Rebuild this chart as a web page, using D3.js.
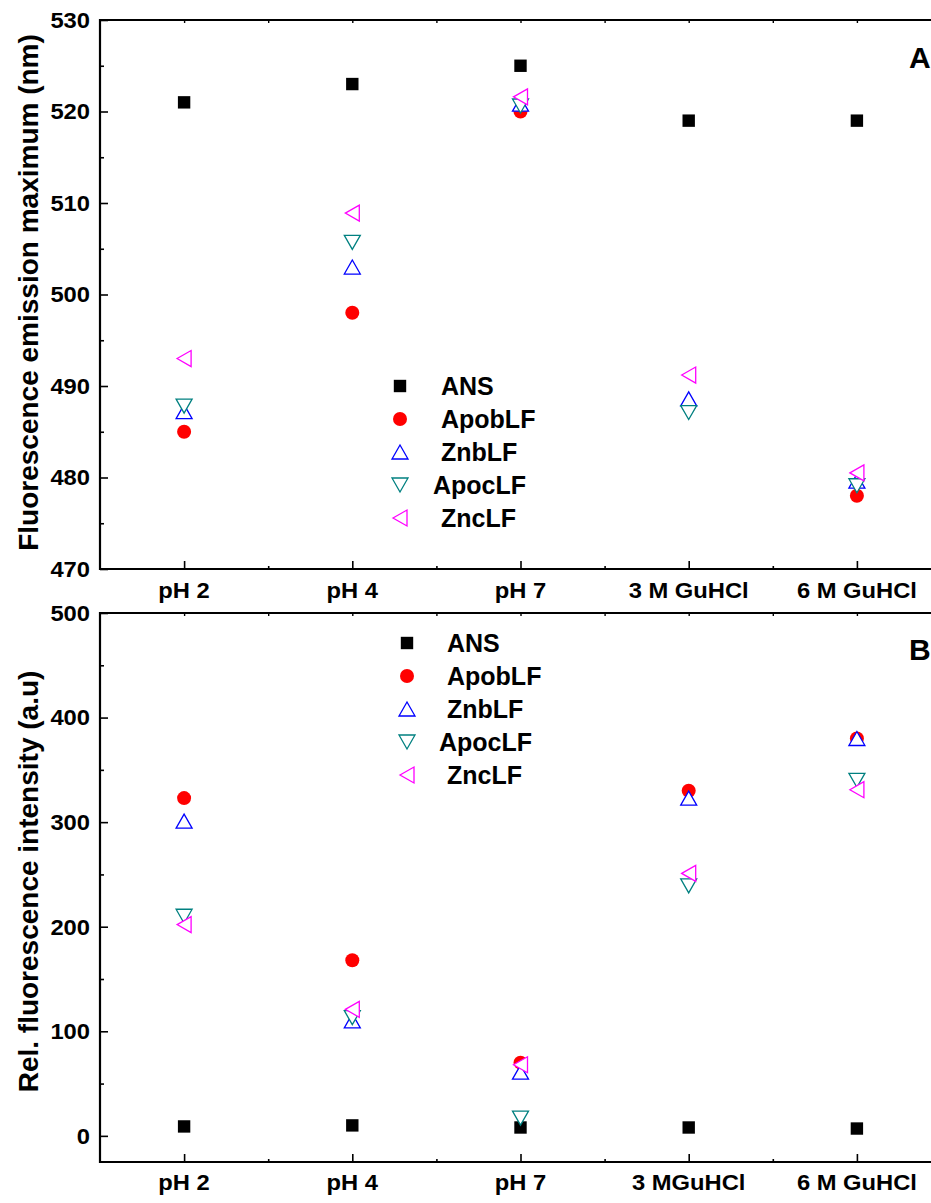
<!DOCTYPE html>
<html>
<head>
<meta charset="utf-8">
<script src="https://cdn.jsdelivr.net/npm/d3@7"></script>
<style>
  html, body { margin: 0; padding: 0; background: #fff; }
  svg { display: block; font-family: "Liberation Sans", Arial, Helvetica, sans-serif; font-weight: bold; }
</style>
</head>
<body>
<svg id="chart" width="931" height="1203"></svg>
<script>
// ---- data ----
const seriesNames = ["ANS", "ApobLF", "ZnbLF", "ApocLF", "ZncLF"];
const seriesColors = ["#000000", "#ff0000", "#0000ff", "#008080", "#ff00ff"];
const seriesShapes = ["square", "circle", "up", "down", "left"];

const categoriesA = ["pH 2", "pH 4", "pH 7", "3 M GuHCl", "6 M GuHCl"];
const categoriesB = ["pH 2", "pH 4", "pH 7", "3 MGuHCl", "6 M GuHCl"];

// Panel A: fluorescence emission maximum (nm)
const emisANS    = [521, 523, 525, 519, 519];
const emisApobLF = [485, 498, 520, 487.8, 478];
const emisZnbLF  = [487.2, 503, 520.8, 488.6, 479.6];
const emisApocLF = [487.8, 505.7, 520.6, 487.1, 479.1];
const emisZncLF  = [493, 508.9, 521.6, 491.2, 480.5];

// Panel B: relative fluorescence intensity (a.u)
const intANS    = [9, 10, 8, 8, 7];
const intApobLF = [323, 168, 70, 330, 380];
const intZnbLF  = [301, 110, 61, 323, 380];
const intApocLF = [210, 113, 17, 239, 340];
const intZncLF  = [202, 121, 68, 251, 331];

const ticksA = [470, 480, 490, 500, 510, 520, 530];
const ticksB = [0, 100, 200, 300, 400, 500];

// ---- drawing ----
const svg = d3.select("#chart");

function markerPath(shape) {
  switch (shape) {
    case "square": return "M-6.2,-6.2H6.2V6.2H-6.2Z";
    case "circle": return d3.symbol(d3.symbolCircle, Math.PI * 7 * 7)();
    case "up":     return "M0,-7L8,7L-8,7Z";
    case "down":   return "M0,7L8,-7L-8,-7Z";
    case "left":   return "M-7,0L7,-8L7,8Z";
  }
}

function drawMarker(g, shape, color, x, y) {
  const filled = shape === "square" || shape === "circle";
  g.append("path")
    .attr("d", markerPath(shape))
    .attr("transform", `translate(${x},${y})`)
    .attr("fill", filled ? color : "#fff")
    .attr("stroke", filled ? "none" : color)
    .attr("stroke-width", 1.3)
    .attr("stroke-linejoin", "miter");
}

function drawPanel(opt) {
  const g = svg.append("g");
  const x = d3.scaleLinear().domain([0.5, 5.5]).range([100, 941]);
  const y = d3.scaleLinear().domain(opt.domain).range([opt.bottom, opt.top]);
  const catIdx = d3.range(1, 6);
  const midIdx = d3.range(1.5, 5.5, 1);

  // left axis with inward major and minor ticks
  const left = g.append("g").attr("transform", "translate(100,0)");
  left.call(d3.axisRight(y).tickValues(opt.ticks).tickSize(8).tickFormat(""));
  left.append("g").call(d3.axisRight(y).tickValues(opt.minor).tickSize(4).tickFormat(""));
  left.selectAll(".domain").remove();
  left.selectAll("line").attr("stroke", "#000").attr("stroke-width", 1.6);
  g.append("line").attr("x1", 100).attr("x2", 100).attr("y1", opt.top - 1).attr("y2", opt.bottom + 1)
    .attr("stroke", "#000").attr("stroke-width", 2.2);
  g.selectAll(".ylab").data(opt.ticks).join("text")
    .attr("x", 90).attr("y", d => y(d)).attr("dy", "0.36em")
    .attr("text-anchor", "end").attr("font-size", 22)
    .attr("transform", d => `translate(90,${y(d)}) scale(1.08,1) translate(-90,${-y(d)})`)
    .text(d => d);

  // bottom axis: inward ticks at categories, short ones between
  const bottom = g.append("g").attr("transform", `translate(0,${opt.bottom})`);
  bottom.call(d3.axisTop(x).tickValues(catIdx).tickSize(8).tickFormat(""));
  bottom.append("g").call(d3.axisTop(x).tickValues(midIdx).tickSize(3).tickFormat(""));
  bottom.selectAll(".domain").remove();
  bottom.selectAll("line").attr("stroke", "#000").attr("stroke-width", 1.6);
  g.append("line").attr("x1", 99).attr("x2", 931).attr("y1", opt.bottom).attr("y2", opt.bottom)
    .attr("stroke", "#000").attr("stroke-width", 2.2);

  // top frame with short inward ticks
  const top = g.append("g").attr("transform", `translate(0,${opt.top})`);
  top.call(d3.axisBottom(x).tickValues(catIdx.concat(midIdx)).tickSize(3).tickFormat(""));
  top.selectAll(".domain").remove();
  top.selectAll("line").attr("stroke", "#000").attr("stroke-width", 1.4);
  g.append("line").attr("x1", 99).attr("x2", 931).attr("y1", opt.top).attr("y2", opt.top)
    .attr("stroke", "#000").attr("stroke-width", 2.2);

  // category labels
  g.selectAll(".xlab").data(opt.categories).join("text")
    .attr("x", (d, i) => x(i + 1)).attr("y", opt.bottom + opt.labelOffset)
    .attr("text-anchor", "middle").attr("font-size", 22)
    .attr("transform", (d, i) => `translate(${x(i + 1)},0) scale(1.08,1) translate(${-x(i + 1)},0)`)
    .text(d => d);

  // axis title
  g.append("text")
    .attr("transform", `translate(38,${(opt.top + opt.bottom) / 2 + opt.titleShift}) rotate(-90)`)
    .attr("text-anchor", "middle").attr("font-size", 28)
    .text(opt.title);

  // panel letter
  g.append("text").attr("x", 909).attr("y", opt.letterY).attr("font-size", 30).text(opt.letter);

  // data points, later series drawn on top
  const marks = g.append("g");
  opt.values.forEach((vals, s) => {
    vals.forEach((v, i) => drawMarker(marks, seriesShapes[s], seriesColors[s], x(i + 1), y(v)));
  });

  // legend
  const leg = g.append("g");
  seriesNames.forEach((name, s) => {
    const ly = opt.legend.y0 + s * opt.legend.dy[s];
    drawMarker(leg, seriesShapes[s], seriesColors[s], opt.legend.x, ly);
    leg.append("text")
      .attr("x", opt.legend.x + (name === "ApocLF" ? opt.legend.tx - 8 : opt.legend.tx))
      .attr("y", ly).attr("dy", "0.36em").attr("font-size", 25)
      .text(name);
  });
}

drawPanel({
  top: 20, bottom: 569, domain: [470, 530],
  ticks: ticksA, minor: d3.range(475, 530, 10),
  categories: categoriesA, labelOffset: 29,
  title: "Fluorescence emission maximum (nm)", titleShift: -2,
  letter: "A", letterY: 68,
  values: [emisANS, emisApobLF, emisZnbLF, emisApocLF, emisZncLF],
  legend: { x: 400, y0: 386, dy: [33, 33, 33, 33, 33], tx: 41 }
});

drawPanel({
  top: 613, bottom: 1162, domain: [-25, 500],
  ticks: ticksB, minor: d3.range(50, 500, 100),
  categories: categoriesB, labelOffset: 28,
  title: "Rel. fluorescence intensity (a.u)", titleShift: -6,
  letter: "B", letterY: 660,
  values: [intANS, intApobLF, intZnbLF, intApocLF, intZncLF],
  legend: { x: 407, y0: 643, dy: [33, 33, 33, 33, 33], tx: 40 }
});
</script>
</body>
</html>
